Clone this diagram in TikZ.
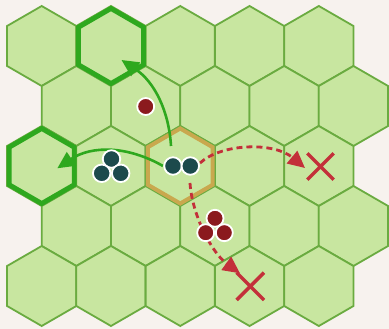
\documentclass[tikz,border=0pt]{standalone}
\usetikzlibrary{shapes.geometric,arrows.meta}
\definecolor{bg}{HTML}{F7F2EE}
\definecolor{hexfill}{HTML}{C8E6A0}
\definecolor{hexline}{HTML}{6AAB40}
\definecolor{hlgreen}{HTML}{2EA81E}
\definecolor{hlgold}{HTML}{C9A84E}
\definecolor{tealtok}{HTML}{1C4A4C}
\definecolor{redtok}{HTML}{8B1A1E}
\definecolor{redmark}{HTML}{C3303A}
\tikzset{
  hexcell/.style={regular polygon, regular polygon sides=6, shape border rotate=30,
    minimum size=80pt, inner sep=0pt, outer sep=0pt, draw=hexline, fill=hexfill, line width=1.8pt},
  hexgreen/.style={regular polygon, regular polygon sides=6, shape border rotate=30,
    minimum size=75pt, inner sep=0pt, outer sep=0pt, draw=hlgreen, line width=4.8pt},
  hexgold/.style={regular polygon, regular polygon sides=6, shape border rotate=30,
    minimum size=75pt, inner sep=0pt, outer sep=0pt, draw=hlgold, line width=4pt},
  tealtoken/.style={circle, minimum size=17.5pt, inner sep=0pt, fill=tealtok, draw=white, line width=1.8pt},
  redtoken/.style={circle, minimum size=17pt, inner sep=0pt, fill=redtok, draw=white, line width=1.8pt},
  movearrow/.style={draw=hlgreen, line width=2.6pt, -{Triangle[length=17pt,width=16pt]}},
  blockarrow/.style={draw=redmark, line width=2.8pt, dash pattern=on 6pt off 4pt, -{Triangle[length=17pt,width=16pt]}},
  crossmark/.style={draw=redmark, line width=3.4pt}
}
\begin{document}
\begin{tikzpicture}[x=1pt,y=-1pt]
\useasboundingbox (0,0) rectangle (389,329);
\fill[bg] (0,0) rectangle (389,329);
% hex grid
\foreach \r in {0,...,4} {
  \foreach \k in {0,...,4} {
    \pgfmathsetmacro\xx{41.7+69.28*\k+34.64*mod(\r,2)}
    \pgfmathsetmacro\yy{46+60*\r}
    \node[hexcell] (h\r\k) at (\xx,\yy) {};
  }
}
% highlighted cells
\node[hexgreen] (sel1) at (h01) {};
\node[hexgreen] (sel2) at (h20) {};
\node[hexgold] (cur) at (h22) {};
% arrow end points
\coordinate (a1s) at (171,146);
\coordinate (a1e) at (121.5,60);
\coordinate (a2s) at (163,166);
\coordinate (a2e) at (57.3,168.3);
\coordinate (a3s) at (200,163);
\coordinate (a3e) at (305,168);
\coordinate (a4s) at (190,183);
\coordinate (a4e) at (240,273.3);
% arrows
\draw[movearrow] (a1s) .. controls (169,112) and (155,82) .. (a1e);
\draw[movearrow] (a2s) .. controls (128,146) and (92,145) .. (a2e);
\draw[blockarrow] (a3s) .. controls (222,143) and (274,142) .. (a3e);
\draw[blockarrow] (a4s) .. controls (192,215) and (212,253) .. (a4e);
% tokens
\node[redtoken] (r0) at (145.7,106.5) {};
\node[tealtoken] (g1) at (111.5,159) {};
\node[tealtoken] (g2) at (101.7,173.3) {};
\node[tealtoken] (g3) at (120.7,173.3) {};
\node[tealtoken] (p1) at (173,166) {};
\node[tealtoken] (p2) at (190.3,166) {};
\node[redtoken] (r1) at (215,218.3) {};
\node[redtoken] (r2) at (205.7,232.7) {};
\node[redtoken] (r3) at (224.3,232.7) {};
% crosses
\node[inner sep=0pt, minimum size=26pt] (x1) at (320.5,166.5) {};
\node[inner sep=0pt, minimum size=27pt] (x2) at (250.3,286.3) {};
\draw[crossmark] (x1.north west) -- (x1.south east) (x1.north east) -- (x1.south west);
\draw[crossmark] (x2.north west) -- (x2.south east) (x2.north east) -- (x2.south west);
\end{tikzpicture}
\end{document}
